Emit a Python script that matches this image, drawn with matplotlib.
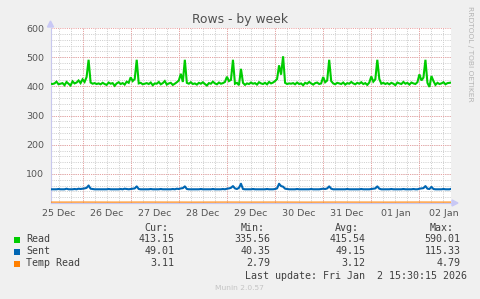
import matplotlib
matplotlib.use("Agg")
import matplotlib.pyplot as plt
from matplotlib.patches import Polygon, Rectangle
import numpy as np

# ---------------- data (hourly, hour 0 = 25 Dec 08:00) ----------------
read_b0 = [409, 408, 410, 416, 407, 409, 411, 404, 415, 409, 403, 417, 410, 413, 420, 411, 424, 415, 432, 491, 413, 409, 411, 408]
read_b1 = [410, 407, 412, 408, 405, 413, 409, 411, 402, 410, 414, 408, 411, 406, 416, 412, 431, 418, 425, 491, 410, 412, 407, 409]
read_b2 = [411, 408, 413, 404, 410, 409, 415, 407, 411, 418, 406, 410, 412, 405, 409, 414, 420, 443, 415, 491, 412, 409, 414, 408]
read_b3 = [410, 406, 412, 409, 414, 408, 403, 411, 409, 416, 410, 407, 413, 409, 411, 415, 433, 418, 422, 491, 409, 412, 404, 460]
read_b4 = [412, 405, 410, 408, 413, 409, 411, 406, 414, 410, 408, 412, 407, 415, 410, 413, 418, 425, 472, 440, 503, 412, 408, 410]
read_b5 = [409, 411, 407, 413, 408, 410, 404, 412, 409, 415, 410, 406, 411, 413, 408, 410, 432, 414, 420, 491, 418, 410, 407, 412]
read_b6 = [410, 408, 413, 406, 411, 409, 415, 410, 407, 412, 409, 414, 408, 411, 405, 413, 434, 416, 424, 491, 425, 409, 412, 408]
read_b7 = [411, 407, 412, 409, 404, 413, 410, 408, 415, 409, 412, 406, 413, 410, 408, 414, 441, 420, 430, 491, 412, 398, 435, 418]
read_b8 = [405, 412, 408, 410, 414, 407, 411, 412, 413]

sent_b0 = [47, 47, 47, 47, 48, 47, 47, 47, 49, 47, 47, 47, 48, 47, 49, 48, 49, 50, 52, 60, 49, 48, 47, 47]
sent_b1 = [47, 47, 47, 47, 47, 48, 47, 47, 47, 47, 47, 48, 47, 49, 48, 47, 48, 49, 50, 57, 48, 47, 47, 47]
sent_b2 = [47, 47, 48, 47, 47, 47, 47, 48, 47, 47, 47, 47, 47, 48, 47, 49, 48, 50, 51, 57, 48, 47, 47, 47]
sent_b3 = [47, 47, 47, 48, 47, 47, 47, 47, 47, 48, 47, 47, 47, 47, 48, 47, 49, 50, 52, 58, 50, 48, 52, 66]
sent_b4 = [48, 47, 47, 47, 47, 48, 47, 47, 47, 47, 47, 47, 48, 47, 47, 47, 48, 50, 66, 58, 56, 49, 48, 47]
sent_b5 = [47, 47, 47, 48, 47, 47, 47, 47, 47, 47, 48, 47, 47, 47, 47, 48, 49, 48, 50, 57, 49, 47, 47, 47]
sent_b6 = [47, 47, 47, 47, 48, 47, 47, 47, 47, 47, 47, 48, 47, 47, 47, 47, 48, 49, 50, 57, 49, 47, 47, 47]
sent_b7 = [47, 47, 48, 47, 47, 47, 47, 47, 48, 47, 47, 47, 47, 48, 47, 47, 49, 50, 51, 58, 49, 48, 55, 48]
sent_b8 = [47, 47, 47, 47, 48, 47, 47, 47, 49]

# Temp Read sampled every 8 hours
temp_hours = [0, 8, 16, 24, 32, 40, 48, 56, 64, 72, 80, 88, 96, 104, 112, 120, 128, 136, 144, 152, 160, 168, 176, 184, 192, 200]
temp_read = [3.1, 3.1, 3.2, 3.1, 3.0, 3.1, 3.2, 3.1, 3.1, 3.0, 3.1, 3.2, 3.1, 3.1, 3.2, 3.1, 3.0, 3.1, 3.2, 3.1, 3.1, 3.0, 3.1, 3.2, 3.1, 3.1]

day_labels = ["25 Dec", "26 Dec", "27 Dec", "28 Dec", "29 Dec", "30 Dec", "31 Dec", "01 Jan", "02 Jan"]
y_ticks = [100, 200, 300, 400, 500, 600]

legend_names = ["Read", "Sent", "Temp Read"]
legend_colors = ["#00CC00", "#0066B3", "#FF8000"]
cur_vals = ["413.15", "49.01", "3.11"]
min_vals = ["335.56", "40.35", "2.79"]
avg_vals = ["415.54", "49.15", "3.12"]
max_vals = ["590.01", "115.33", "4.79"]

read = read_b0 + read_b1 + read_b2 + read_b3 + read_b4 + read_b5 + read_b6 + read_b7 + read_b8
sent = sent_b0 + sent_b1 + sent_b2 + sent_b3 + sent_b4 + sent_b5 + sent_b6 + sent_b7 + sent_b8
hours = np.arange(len(read))

# ---------------- figure ----------------
W, H = 481, 299
fig = plt.figure(figsize=(W / 100, H / 100), dpi=100)
fig.patch.set_facecolor("#F0F0F0")

L, R, T, B = 50.5, 451.5, 28.0, 203.0
ax = fig.add_axes([L / W, 1 - B / H, (R - L) / W, (B - T) / H])
ax.set_facecolor("white")
ax.set_xlim(0, 200)
ax.set_ylim(0, 600)

minor_c = "#CFCFCF"
major_c = "#EBA0A0"
dot = (0, (1, 1.2))
for h in np.arange(4, 200, 6):
    ax.axvline(h, color=minor_c, lw=0.72, ls=dot, zorder=1)
for v in range(20, 600, 20):
    ax.axhline(v, color=minor_c, lw=0.72, ls=dot, zorder=1)
for h in np.arange(16, 200, 24):
    ax.axvline(h, color=major_c, lw=0.72, ls=dot, zorder=1.5)
for v in y_ticks:
    ax.axhline(v, color=major_c, lw=0.72, ls=dot, zorder=1.5)

ax.plot(hours, read, color=legend_colors[0], lw=1.5, zorder=3, solid_joinstyle="miter")
ax.plot(hours, sent, color=legend_colors[1], lw=1.5, zorder=3)
ax.plot(temp_hours, temp_read, color=legend_colors[2], lw=0.8, zorder=3)

for s in ["top", "right"]:
    ax.spines[s].set_visible(False)
ax.spines["left"].set_color("#C8C8EE")
ax.spines["bottom"].set_color("#C8C8EE")
ax.spines["left"].set_linewidth(0.8)
ax.spines["bottom"].set_linewidth(0.8)

ax.set_yticks(y_ticks)
ax.set_yticklabels([str(v) for v in y_ticks])
ax.set_xticks([4 + 24 * i for i in range(len(day_labels))])
ax.set_xticklabels(day_labels)
ax.tick_params(axis="both", length=0, labelsize=6.8, colors="#555555")
ax.tick_params(axis="y", pad=4.5)
ax.tick_params(axis="x", pad=4)

# axis arrows
def fx(x):
    return x / W
def fy(y):
    return 1 - y / H
fig.patches.append(Polygon([(fx(47.5), fy(27)), (fx(53.5), fy(27)), (fx(50.5), fy(21))],
                           closed=True, transform=fig.transFigure, color="#C8C8F5", zorder=5))
fig.patches.append(Polygon([(fx(452), fy(200)), (fx(452), fy(206)), (fx(458), fy(203))],
                           closed=True, transform=fig.transFigure, color="#C8C8F5", zorder=5))

# title
fig.text(fx(240.5), fy(19.5), "Rows - by week", ha="center", va="center", fontsize=8.9, color="#505050")
# side text
fig.text(fx(470.5), fy(53.5), "RRDTOOL / TOBI OETIKER", rotation=270, ha="center", va="center",
         fontsize=5.4, color="#B4B4B4")

# legend
mono = "DejaVu Sans Mono"
fs = 7.2
tc = "#404040"
hdr_y = 227.7
cols_val = [174.3, 270.7, 365.7, 460.3]
cols_hdr = [168.3, 264.3, 359.0, 453.7]
headers = ["Cur:", "Min:", "Avg:", "Max:"]
for xh, txt in zip(cols_hdr, headers):
    fig.text(fx(xh), fy(hdr_y), txt, ha="right", va="center", family=mono, fontsize=fs, color=tc)
row_y = [239.5, 251.5, 263.5]
for i, name in enumerate(legend_names):
    y = row_y[i]
    fig.patches.append(Rectangle((fx(13.5), fy(y + 3)), 6 / W, 6 / H, transform=fig.transFigure,
                                 facecolor=legend_colors[i], edgecolor="none"))
    fig.text(fx(26), fy(y), name, ha="left", va="center", family=mono, fontsize=fs, color=tc)
    for xv, vals in zip(cols_val, [cur_vals, min_vals, avg_vals, max_vals]):
        fig.text(fx(xv), fy(y), vals[i], ha="right", va="center", family=mono, fontsize=fs, color=tc)
fig.text(fx(466.7), fy(275.8), "Last update: Fri Jan  2 15:30:15 2026", ha="right", va="center",
         family=mono, fontsize=fs, color=tc)
fig.text(fx(239.5), fy(288), "Munin 2.0.57", ha="center", va="center", fontsize=5.4, color="#C4C4C4")

fig.savefig("out.png", dpi=100, facecolor=fig.get_facecolor())
